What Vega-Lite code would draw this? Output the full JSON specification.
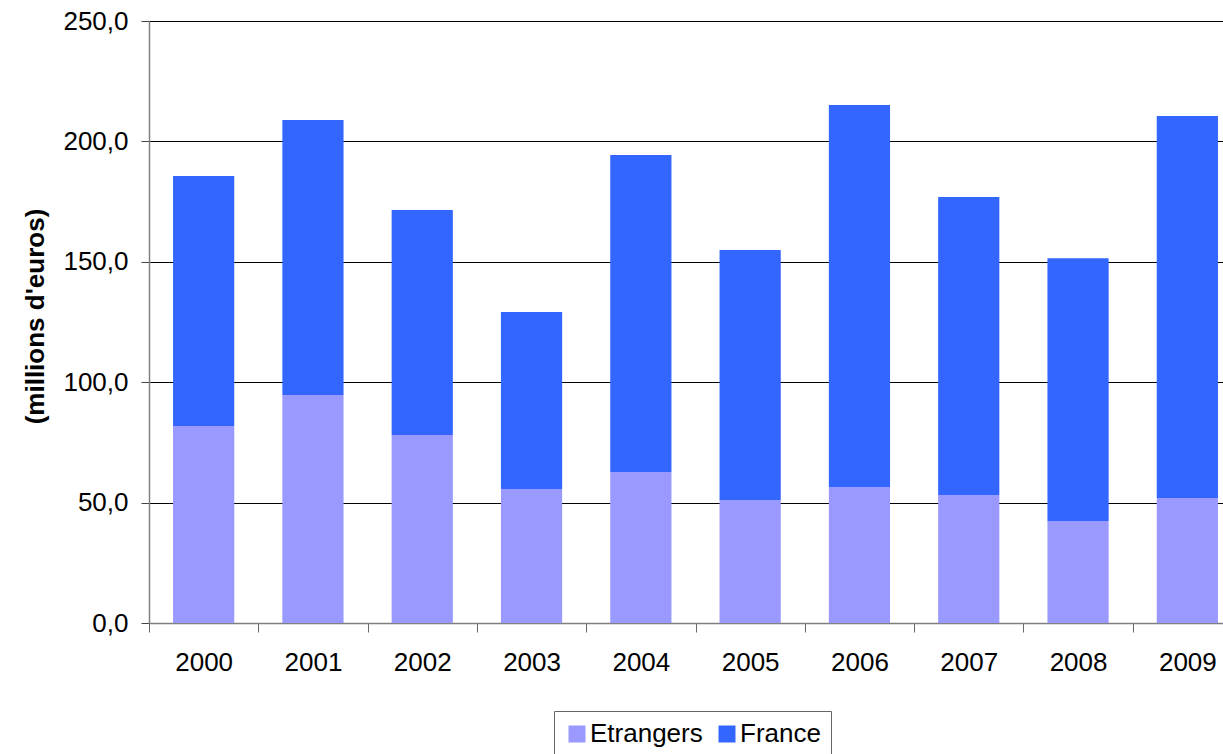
{
  "$schema": "https://vega.github.io/schema/vega-lite/v6.json",
  "width": 1074,
  "height": 602,
  "autosize": {"type": "none"},
  "padding": {"left": 149, "top": 21, "right": 0, "bottom": 131},
  "background": "white",
  "config": {
    "view": {"stroke": null},
    "font": "Liberation Sans",
    "axis": {"labelFont": "Liberation Sans", "titleFont": "Liberation Sans", "labelColor": "black", "titleColor": "black"},
    "legend": {"labelFont": "Liberation Sans"}
  },
  "data": {
    "values": [
      {"annee": "2000", "origine": "Etrangers", "montant": 81.8},
      {"annee": "2000", "origine": "France", "montant": 103.8},
      {"annee": "2001", "origine": "Etrangers", "montant": 94.7},
      {"annee": "2001", "origine": "France", "montant": 114.2},
      {"annee": "2002", "origine": "Etrangers", "montant": 78.1},
      {"annee": "2002", "origine": "France", "montant": 93.4},
      {"annee": "2003", "origine": "Etrangers", "montant": 55.6},
      {"annee": "2003", "origine": "France", "montant": 73.6},
      {"annee": "2004", "origine": "Etrangers", "montant": 62.7},
      {"annee": "2004", "origine": "France", "montant": 131.7},
      {"annee": "2005", "origine": "Etrangers", "montant": 51.1},
      {"annee": "2005", "origine": "France", "montant": 103.8},
      {"annee": "2006", "origine": "Etrangers", "montant": 56.5},
      {"annee": "2006", "origine": "France", "montant": 158.6},
      {"annee": "2007", "origine": "Etrangers", "montant": 53.2},
      {"annee": "2007", "origine": "France", "montant": 123.7},
      {"annee": "2008", "origine": "Etrangers", "montant": 42.4},
      {"annee": "2008", "origine": "France", "montant": 109.1},
      {"annee": "2009", "origine": "Etrangers", "montant": 51.9},
      {"annee": "2009", "origine": "France", "montant": 158.6}
    ]
  },
  "mark": {"type": "bar", "width": {"band": 0.56}},
  "encoding": {
    "x": {
      "field": "annee",
      "type": "ordinal",
      "scale": {"range": [0, 1093], "paddingInner": 0, "paddingOuter": 0},
      "axis": {
        "title": null,
        "labelAngle": 0,
        "labelFontSize": 26,
        "labelPadding": 17,
        "tickBand": "extent",
        "tickSize": 9,
        "tickColor": "#666666",
        "domainColor": "#808080",
        "domainWidth": 1.5,
        "grid": false
      }
    },
    "y": {
      "field": "montant",
      "type": "quantitative",
      "aggregate": "sum",
      "stack": "zero",
      "scale": {"domain": [0, 250], "nice": false},
      "axis": {
        "title": "(millions d'euros)",
        "titleFontSize": 26,
        "titleFontWeight": "bold",
        "titlePadding": 14,
        "titleY": 295,
        "values": [0, 50, 100, 150, 200, 250],
        "labelExpr": "replace(format(datum.value, '.1f'), '.', ',')",
        "labelFontSize": 26,
        "labelPadding": 13,
        "tickSize": 8,
        "tickColor": "#444444",
        "domainColor": "#808080",
        "domainWidth": 1.5,
        "grid": true,
        "gridColor": "black",
        "gridWidth": 1
      }
    },
    "color": {
      "field": "origine",
      "type": "nominal",
      "scale": {"domain": ["Etrangers", "France"], "range": ["#9999FF", "#3366FF"]},
      "legend": {
        "title": null,
        "orient": "none",
        "direction": "horizontal",
        "legendX": 405,
        "legendY": 690,
        "symbolType": "square",
        "symbolSize": 289,
        "symbolStrokeWidth": 0,
        "labelFontSize": 26,
        "labelOffset": 0,
        "columnPadding": 11,
        "padding": 10,
        "strokeColor": "#666666",
        "fillColor": "white"
      }
    },
    "order": {"field": "origine", "sort": "ascending"}
  }
}
